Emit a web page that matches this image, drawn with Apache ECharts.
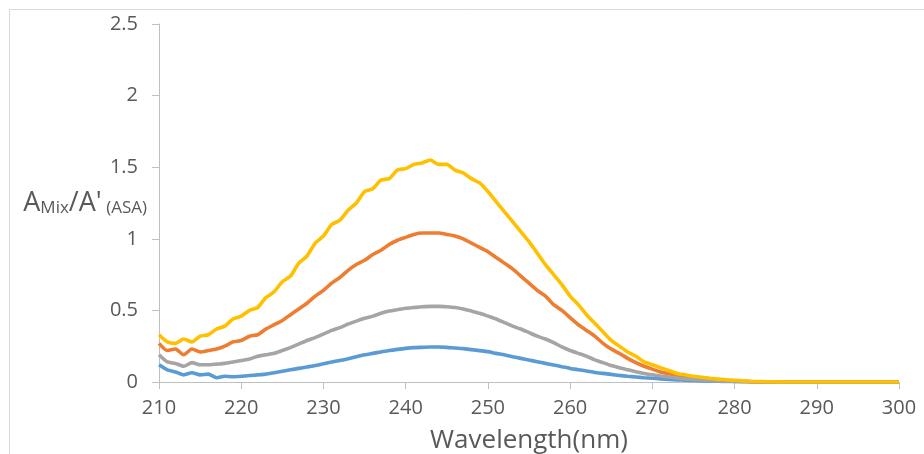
<!DOCTYPE html>
<html>
<head>
<meta charset="utf-8">
<script src="https://cdn.jsdelivr.net/npm/echarts@6/dist/echarts.min.js"></script>
<style>html,body{margin:0;padding:0;background:#fff;}#c{width:924px;height:454px;}</style>
</head>
<body>
<div id="c"></div>
<script>
const wavelengths = [210,211,212,213,214,215,216,217,218,219,220,221,222,223,224,225,226,227,228,229,230,231,232,233,234,235,236,237,238,239,240,241,242,243,244,245,246,247,248,249,250,251,252,253,254,255,256,257,258,259,260,261,262,263,264,265,266,267,268,269,270,271,272,273,274,275,276,277,278,279,280,281,282,283,284,285,286,287,288,289,290,291,292,293,294,295,296,297,298,299,300];

const series1 = [0.12,0.085,0.07,0.05,0.065,0.05,0.055,0.03,0.04,0.037,0.04,0.045,0.05,0.055,0.065,0.075,0.085,0.095,0.105,0.115,0.128,0.14,0.15,0.163,0.177,0.19,0.20,0.21,0.22,0.228,0.235,0.24,0.242,0.244,0.244,0.242,0.237,0.233,0.226,0.219,0.212,0.20,0.19,0.177,0.165,0.153,0.142,0.13,0.119,0.107,0.095,0.086,0.077,0.067,0.06,0.053,0.046,0.04,0.035,0.03,0.026,0.022,0.018,0.015,0.012,0.01,0.008,0.006,0.005,0.004,0.003,0.002,0.001,0,0,0,0,0,0,0,0,0,0,0,0,0,0,0,0,0,0];

const series2 = [0.27,0.22,0.23,0.19,0.23,0.21,0.22,0.23,0.25,0.28,0.29,0.32,0.33,0.37,0.40,0.43,0.47,0.51,0.55,0.60,0.64,0.69,0.73,0.78,0.82,0.85,0.89,0.92,0.96,0.99,1.01,1.03,1.04,1.04,1.04,1.03,1.02,1.00,0.97,0.94,0.91,0.87,0.83,0.79,0.74,0.69,0.64,0.60,0.54,0.50,0.45,0.40,0.36,0.32,0.27,0.23,0.20,0.165,0.135,0.11,0.09,0.07,0.058,0.046,0.037,0.03,0.024,0.018,0.013,0.009,0.006,0.004,0.002,0.001,0,0,0,0,0,0,0,0,0,0,0,0,0,0,0,0,0];

const series3 = [0.19,0.14,0.13,0.11,0.135,0.12,0.12,0.125,0.13,0.14,0.15,0.16,0.18,0.19,0.20,0.22,0.24,0.265,0.29,0.31,0.335,0.36,0.38,0.405,0.425,0.445,0.46,0.48,0.495,0.505,0.515,0.52,0.525,0.528,0.528,0.525,0.52,0.51,0.495,0.48,0.46,0.44,0.415,0.39,0.37,0.345,0.32,0.30,0.275,0.245,0.22,0.20,0.18,0.155,0.135,0.115,0.10,0.085,0.072,0.06,0.05,0.042,0.035,0.028,0.022,0.018,0.014,0.011,0.008,0.006,0.004,0.003,0.002,0.001,0,0,0,0,0,0,0,0,0,0,0,0,0,0,0,0,0];

const series4 = [0.33,0.28,0.27,0.30,0.28,0.32,0.33,0.37,0.39,0.44,0.46,0.50,0.52,0.59,0.63,0.70,0.74,0.83,0.88,0.97,1.02,1.10,1.13,1.20,1.25,1.33,1.35,1.41,1.42,1.48,1.49,1.52,1.53,1.55,1.52,1.52,1.48,1.46,1.42,1.39,1.33,1.26,1.19,1.12,1.05,0.98,0.90,0.82,0.75,0.68,0.60,0.54,0.47,0.41,0.35,0.29,0.25,0.21,0.18,0.14,0.12,0.10,0.08,0.06,0.05,0.04,0.033,0.026,0.02,0.016,0.012,0.008,0.005,0.003,0.002,0.001,0,0,0,0,0,0,0,0,0,0,0,0,0,0,0];

const xTicks = [210,220,230,240,250,260,270,280,290,300];
const yTicks = [0,0.5,1,1.5,2,2.5];

const colors = ['#5B9BD5','#ED7D31','#A5A5A5','#FFC000'];
const allSeries = [series1, series2, series3, series4];

const FONT = '"Open Sans", sans-serif';
const chart = echarts.init(document.getElementById('c'), null, {renderer: 'canvas'});

chart.setOption({
  animation: false,
  backgroundColor: '#ffffff',
  graphic: [{
    type: 'rect', silent: true, z: -10,
    shape: {x: 9.5, y: 9.5, width: 930, height: 460},
    style: {fill: 'none', stroke: '#d9d9d9', lineWidth: 1}
  }],
  grid: {left: 159, right: 25, top: 24, bottom: 72, containLabel: false, outerBoundsMode: 'none'},
  xAxis: {
    type: 'value', min: xTicks[0], max: xTicks[xTicks.length-1], interval: 10,
    name: 'Wavelength(nm)', nameLocation: 'middle', nameGap: 46, nameMoveOverlap: false,
    nameTextStyle: {fontFamily: FONT, fontSize: 26, color: '#595959'},
    axisLine: {show: true, lineStyle: {color: '#bfbfbf', width: 1}},
    axisTick: {show: true, length: 7, lineStyle: {color: '#bfbfbf'}},
    axisLabel: {fontFamily: FONT, fontSize: 20, color: '#595959', margin: 16},
    splitLine: {show: false}
  },
  yAxis: {
    type: 'value', min: yTicks[0], max: yTicks[yTicks.length-1], interval: 0.5,
    name: '{a|A}{s|Mix}{a|/A\'}{s| (ASA)}',
    nameLocation: 'middle', nameRotate: 0, nameGap: 12, nameMoveOverlap: false,
    nameTextStyle: {
      color: '#595959', fontFamily: FONT, align: 'right',
      rich: {
        a: {fontFamily: FONT, fontSize: 27, color: '#595959', lineHeight: 32, verticalAlign: 'middle'},
        s: {fontFamily: FONT, fontSize: 17, color: '#595959', lineHeight: 17, verticalAlign: 'bottom', padding: [0,0,2,0]}
      }
    },
    axisLine: {show: true, lineStyle: {color: '#bfbfbf', width: 1}},
    axisTick: {show: true, length: 7, lineStyle: {color: '#bfbfbf'}},
    axisLabel: {fontFamily: FONT, fontSize: 20, color: '#595959', margin: 21},
    splitLine: {show: false}
  },
  series: allSeries.map((vals, i) => ({
    type: 'line',
    data: wavelengths.map((w, k) => [w, vals[k]]),
    showSymbol: false,
    smooth: 0.2,
    lineStyle: {color: colors[i], width: 3.6},
    itemStyle: {color: colors[i]},
    z: 2 + i
  }))
});
</script>
</body>
</html>
